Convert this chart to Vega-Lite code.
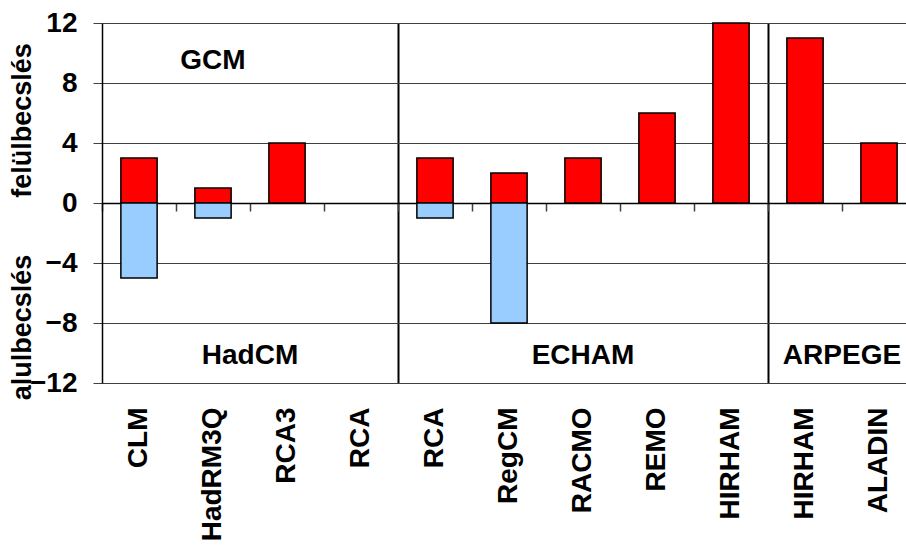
{
  "$schema": "https://vega.github.io/schema/vega-lite/v6.json",
  "width": 804,
  "height": 360,
  "autosize": {"type": "none"},
  "padding": {"left": 102, "top": 23, "right": 0, "bottom": 170},
  "background": "white",
  "config": {
    "view": {"stroke": null},
    "font": "Liberation Sans",
    "axisY": {"title": null}
  },
  "datasets": {
    "bars": [
      {"id": "HadCM CLM", "type": "over", "value": 3},
      {"id": "HadCM CLM", "type": "under", "value": -5},
      {"id": "HadCM HadRM3Q", "type": "over", "value": 1},
      {"id": "HadCM HadRM3Q", "type": "under", "value": -1},
      {"id": "HadCM RCA3", "type": "over", "value": 4},
      {"id": "ECHAM RCA", "type": "over", "value": 3},
      {"id": "ECHAM RCA", "type": "under", "value": -1},
      {"id": "ECHAM RegCM", "type": "over", "value": 2},
      {"id": "ECHAM RegCM", "type": "under", "value": -8},
      {"id": "ECHAM RACMO", "type": "over", "value": 3},
      {"id": "ECHAM REMO", "type": "over", "value": 6},
      {"id": "ECHAM HIRHAM", "type": "over", "value": 12},
      {"id": "ARPEGE HIRHAM", "type": "over", "value": 11},
      {"id": "ARPEGE ALADIN", "type": "over", "value": 4}
    ],
    "centerLabels": [
      {"id": "HadCM HadRM3Q", "label": "GCM", "yv": 9.5},
      {"id": "ECHAM RACMO", "label": "ECHAM", "yv": -10.2}
    ],
    "edgeLabels": [
      {"id": "HadCM HadRM3Q", "label": "HadCM", "yv": -10.2},
      {"id": "ARPEGE HIRHAM", "label": "ARPEGE", "yv": -10.2}
    ],
    "sides": [
      {"id": "HadCM CLM", "label": "felülbecslés", "yv": 5.5},
      {"id": "HadCM CLM", "label": "alulbecslés", "yv": -8.3}
    ]
  },
  "resolve": {"axis": {"x": "independent"}},
  "layer": [
    {
      "data": {"name": "bars"},
      "mark": {"type": "bar", "stroke": "#000000", "strokeWidth": 1.5},
      "encoding": {
        "x": {
          "field": "id",
          "type": "nominal",
          "sort": null,
          "scale": {
            "type": "band",
            "domain": ["HadCM CLM", "HadCM HadRM3Q", "HadCM RCA3", "HadCM RCA", "ECHAM RCA", "ECHAM RegCM", "ECHAM RACMO", "ECHAM REMO", "ECHAM HIRHAM", "ARPEGE HIRHAM", "ARPEGE ALADIN"],
            "range": [0, 814],
            "paddingInner": 0.51,
            "paddingOuter": 0.255
          },
          "axis": {
            "orient": "bottom",
            "title": null,
            "labelExpr": "split(datum.label, ' ')[1]",
            "labelAngle": -90,
            "labelFont": "Liberation Sans",
            "labelFontSize": 28,
            "labelFontWeight": "bold",
            "labelColor": "#000000",
            "labelPadding": 24,
            "ticks": false,
            "tickSize": 0,
            "domain": false,
            "grid": false
          }
        },
        "y": {
          "field": "value",
          "type": "quantitative",
          "scale": {"domain": [-12, 12], "nice": false},
          "axis": {
            "values": [-12, -8, -4, 0, 4, 8, 12],
            "title": null,
            "grid": true,
            "gridColor": "#404040",
            "gridWidth": 1,
            "gridOpacity": 1,
            "domain": true,
            "domainColor": "#000000",
            "domainWidth": 1.5,
            "ticks": true,
            "tickColor": "#404040",
            "tickSize": 9,
            "tickWidth": 1,
            "labelFont": "Liberation Sans",
            "labelFontSize": 28,
            "labelFontWeight": "bold",
            "labelColor": "#000000",
            "labelPadding": 16
          }
        },
        "y2": {"datum": 0},
        "color": {
          "field": "type",
          "type": "nominal",
          "scale": {"domain": ["over", "under"], "range": ["#FF0000", "#99CCFF"]},
          "legend": null
        }
      }
    },
    {
      "data": {"name": "centerLabels"},
      "mark": {"type": "text", "font": "Liberation Sans", "fontSize": 28, "fontWeight": "bold", "color": "#000000", "align": "center", "baseline": "middle"},
      "encoding": {
        "x": {
          "field": "id",
          "type": "nominal",
          "axis": {
            "orient": "bottom",
            "offset": -180,
            "bandPosition": -0.5204,
            "title": null,
            "labels": false,
            "grid": true,
            "gridColor": "#000000",
            "gridWidth": 2,
            "gridOpacity": {"condition": {"test": "datum.value === 'ECHAM RCA' || datum.value === 'ARPEGE HIRHAM'", "value": 1}, "value": 0},
            "domain": true,
            "domainColor": "#000000",
            "domainWidth": 1.5,
            "ticks": true,
            "tickSize": 8,
            "tickColor": "#404040",
            "tickWidth": 1.5
          }
        },
        "y": {"field": "yv", "type": "quantitative"},
        "text": {"field": "label"}
      }
    },
    {
      "data": {"name": "edgeLabels"},
      "mark": {"type": "text", "font": "Liberation Sans", "fontSize": 28, "fontWeight": "bold", "color": "#000000", "align": "center", "baseline": "middle"},
      "encoding": {
        "x": {"field": "id", "type": "nominal", "bandPosition": 1.5204, "axis": null},
        "y": {"field": "yv", "type": "quantitative"},
        "text": {"field": "label"}
      }
    },
    {
      "data": {"name": "sides"},
      "mark": {"type": "text", "font": "Liberation Sans", "fontSize": 27, "fontWeight": "bold", "color": "#000000", "align": "center", "baseline": "middle", "angle": 270, "dy": -98},
      "encoding": {
        "x": {"field": "id", "type": "nominal", "bandPosition": 0, "axis": null},
        "y": {"field": "yv", "type": "quantitative"},
        "text": {"field": "label"}
      }
    }
  ]
}
